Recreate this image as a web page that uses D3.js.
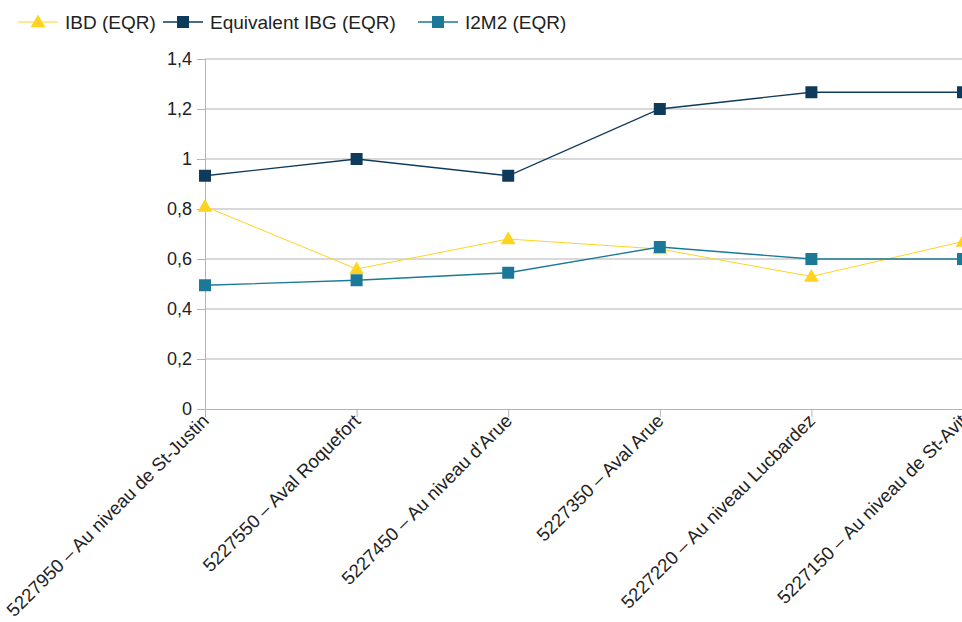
<!DOCTYPE html>
<html>
<head>
<meta charset="utf-8">
<script src="https://cdn.jsdelivr.net/npm/d3@7"></script>
<style>
  html, body { margin: 0; padding: 0; background: #fff; }
  svg { display: block; font-family: "Liberation Sans", Arial, sans-serif; }
</style>
</head>
<body>
<svg id="chart" width="962" height="622"></svg>
<script>
// Sampling stations along the river
const stations = [
  "5227950 – Au niveau de St-Justin",
  "5227550 – Aval Roquefort",
  "5227450 – Au niveau d'Arue",
  "5227350 – Aval Arue",
  "5227220 – Au niveau Lucbardez",
  "5227150 – Au niveau de St-Avit"
];

// Ecological quality ratios per station
const ibdValues  = [0.81, 0.56, 0.68, 0.64, 0.53, 0.67];
const ibgValues  = [0.933, 1.0, 0.933, 1.2, 1.267, 1.267];
const i2m2Values = [0.495, 0.515, 0.545, 0.648, 0.60, 0.60];

const yTicks = [0, 0.2, 0.4, 0.6, 0.8, 1, 1.2, 1.4];

const seriesNames  = ["IBD (EQR)", "Equivalent IBG (EQR)", "I2M2 (EQR)"];
const seriesColors = ["#ffd320", "#0e3b5c", "#1b7896"];
const seriesShapes = ["triangle", "square", "square"];

const series = [ibdValues, ibgValues, i2m2Values].map((vals, i) => ({
  name: seriesNames[i], color: seriesColors[i], shape: seriesShapes[i], values: vals
}));

const svg = d3.select("#chart");
const plotLeft = 205, plotRight = 963, plotTop = 59, plotBottom = 409;

const x = d3.scalePoint().domain(stations).range([plotLeft, plotRight]);
const y = d3.scaleLinear().domain([0, 1.4]).range([plotBottom, plotTop]);

const fmt = d => d3.format(".1f")(d).replace(".", ",").replace(/,0$/, "");

// Horizontal gridlines
svg.append("g").selectAll("line").data(yTicks.filter(d => d > 0)).join("line")
  .attr("x1", plotLeft).attr("x2", 962)
  .attr("y1", d => y(d)).attr("y2", d => y(d))
  .attr("stroke", "#b3b3b3").attr("stroke-width", 1);

// Y axis
const yAxis = svg.append("g").attr("transform", `translate(${plotLeft},0)`)
  .call(d3.axisLeft(y).tickValues(yTicks).tickFormat(fmt).tickSize(8).tickPadding(5));
yAxis.select(".domain").attr("stroke", "#b3b3b3");
yAxis.selectAll(".tick line").attr("stroke", "#b3b3b3");
yAxis.selectAll("text").attr("font-size", 18).attr("fill", "#222")
  .attr("font-family", "Liberation Sans, Arial, sans-serif");

// X axis
const xAxis = svg.append("g").attr("transform", `translate(0,${plotBottom})`)
  .call(d3.axisBottom(x).tickSize(8).tickFormat(""));
xAxis.select(".domain").attr("stroke", "#b3b3b3");
xAxis.selectAll(".tick line").attr("stroke", "#b3b3b3");

// Rotated station labels
svg.append("g").selectAll("text").data(stations).join("text")
  .attr("transform", d => `translate(${x(d) + 5},${plotBottom + 13}) rotate(-45)`)
  .attr("text-anchor", "end")
  .attr("font-size", 18.5)
  .attr("fill", "#222")
  .text(d => d);

const symbolFor = (shape) => shape === "triangle"
  ? d3.symbol().type(d3.symbolTriangle).size(95)
  : d3.symbol().type(d3.symbolSquare).size(144);

// Series lines and markers
const line = d3.line().x((d, i) => x(stations[i])).y(d => y(d));
series.forEach(s => {
  svg.append("path").datum(s.values)
    .attr("d", line).attr("fill", "none")
    .attr("stroke", s.color).attr("stroke-width", s.shape === "triangle" ? 1 : 1.3);
});
series.forEach(s => {
  svg.append("g").selectAll("path").data(s.values).join("path")
    .attr("transform", (d, i) => `translate(${x(stations[i])},${y(d) + (s.shape === "triangle" ? 1 : 0)})`)
    .attr("d", symbolFor(s.shape)())
    .attr("fill", s.color);
});

// Legend
const legendX = [18, 163, 418];
const legend = svg.append("g");
series.forEach((s, i) => {
  const g = legend.append("g").attr("transform", `translate(${legendX[i]},22)`);
  g.append("line").attr("x1", 0).attr("x2", 40).attr("y1", 0).attr("y2", 0)
    .attr("stroke", s.color).attr("stroke-width", s.shape === "triangle" ? 1 : 1.3);
  g.append("path").attr("transform", `translate(20,${s.shape === "triangle" ? 1 : 0})`)
    .attr("d", symbolFor(s.shape)()).attr("fill", s.color);
  g.append("text").attr("x", 47).attr("y", 7).attr("font-size", 19).attr("fill", "#222")
    .text(s.name);
});
</script>
</body>
</html>
